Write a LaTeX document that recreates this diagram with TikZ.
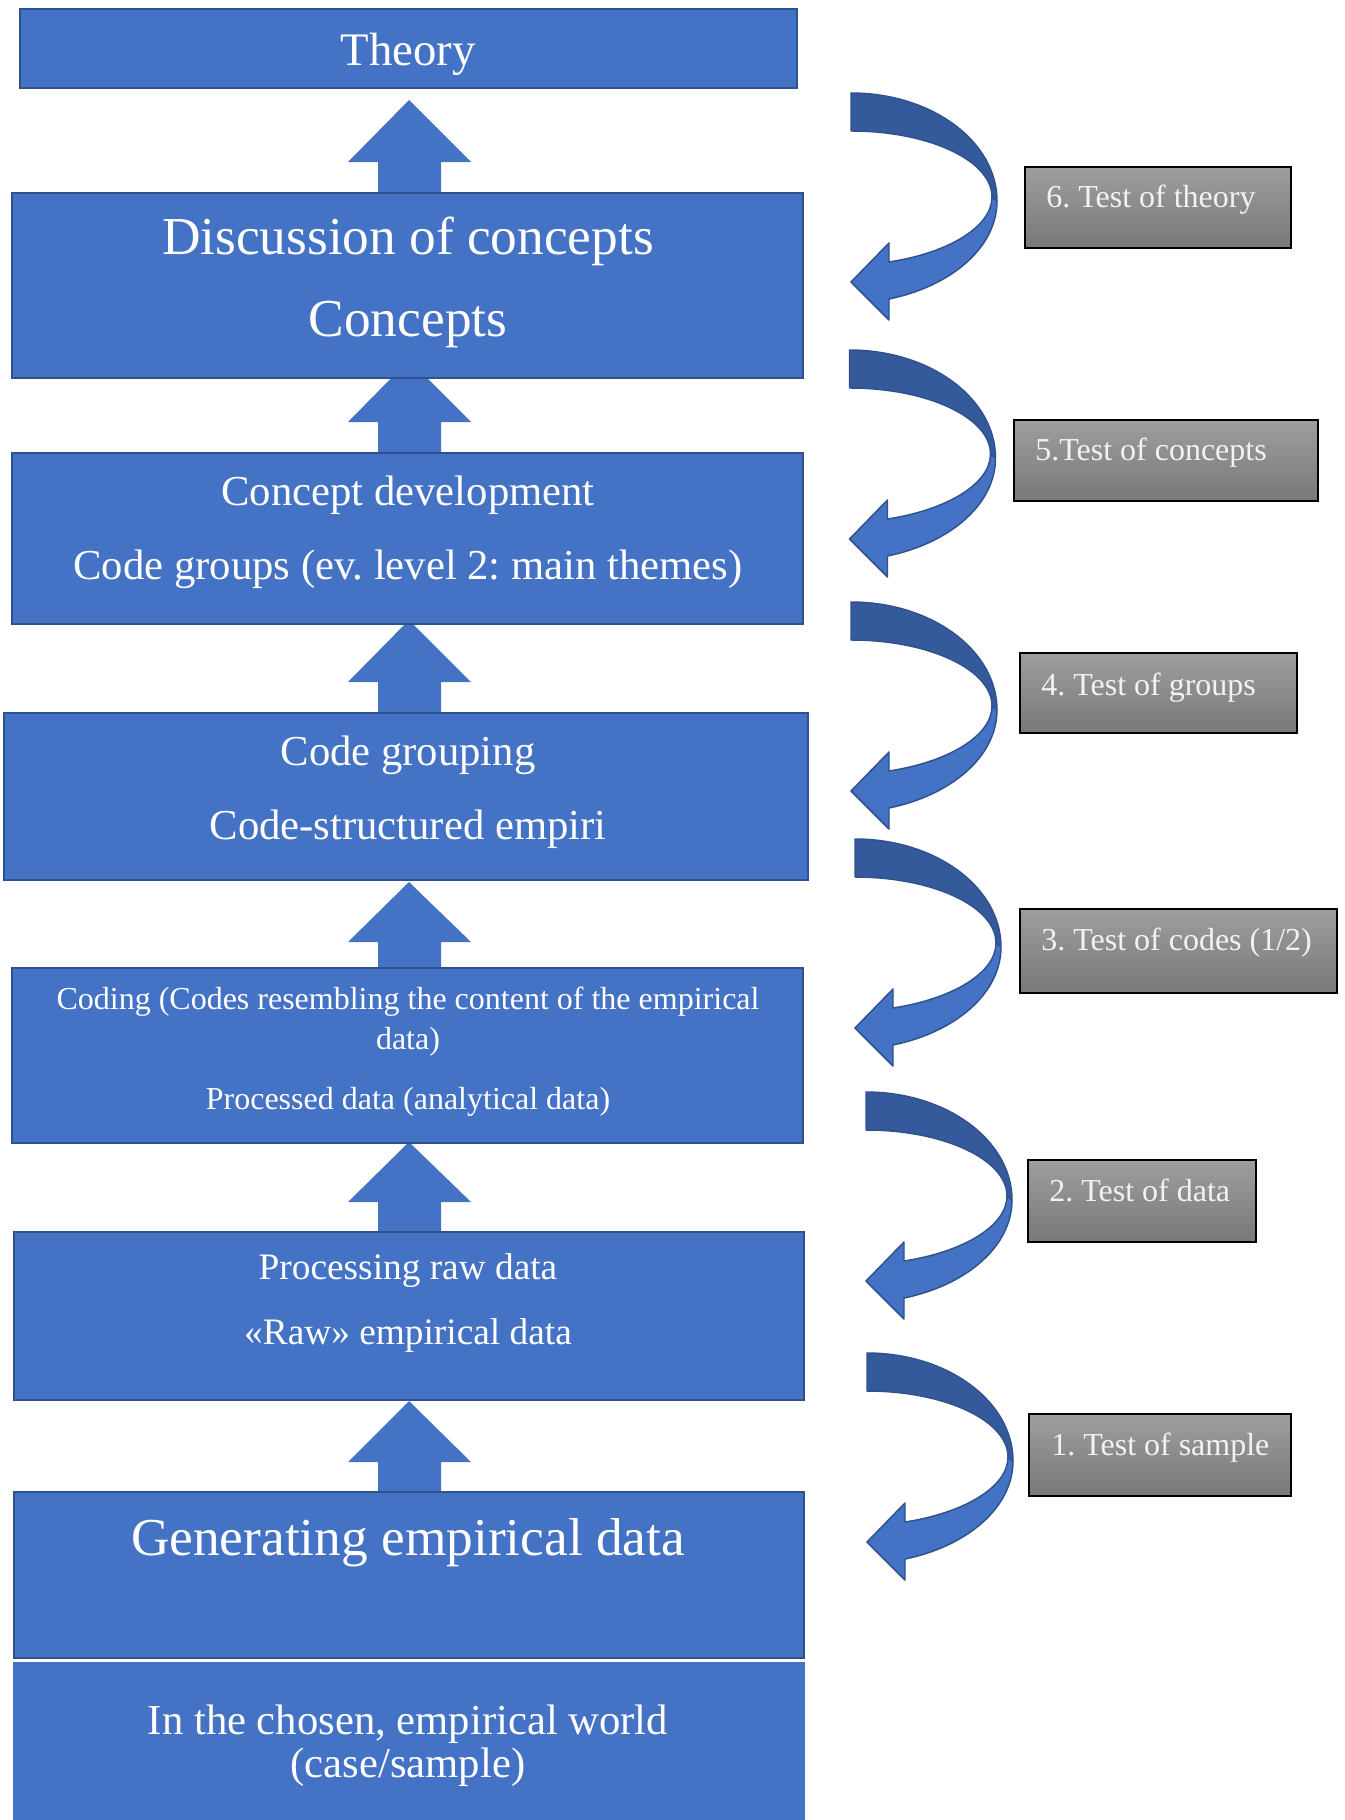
\documentclass[tikz,border=0pt]{standalone}
\usepackage{fontspec}
\setmainfont{Liberation Serif}
\definecolor{boxblue}{HTML}{4472C4}
\definecolor{boxedge}{HTML}{2F528F}
\definecolor{darkband}{HTML}{345A9B}
\definecolor{graytop}{HTML}{9E9E9E}
\definecolor{graybot}{HTML}{787878}
\definecolor{graytext}{HTML}{F2F2F2}
\frenchspacing
\begin{document}
\begin{tikzpicture}[x=0.75pt,y=-0.75pt,
  bluebox/.style={fill=boxblue,draw=boxedge,line width=2.2pt},
  plainbox/.style={fill=boxblue},
  uparrow/.style={fill=boxblue},
  graybox/.style={top color=graytop,bottom color=graybot,draw=black,line width=1pt},
  btxt/.style={text=white,inner sep=0pt,anchor=base},
  gtxt/.style={text=graytext,inner sep=0pt,anchor=base west,font=\fontsize{24}{28}\selectfont},
  curvedarr/.pic={
    \path[fill=darkband,draw=boxedge,line width=1.1pt,line join=round]
      (0,0) .. controls (80.6,0) and (146,48.4) .. (146,108) -- (141,104)
      .. controls (141,67.5) and (77.9,38) .. (0,38) -- cycle;
    \path[fill=boxblue,draw=boxedge,line width=1.1pt,line join=round]
      (141,104) .. controls (141,134) and (97,160) .. (38,169) -- (38,150) -- (0,189)
      -- (38,227) -- (38,206) .. controls (101,193) and (146,154) .. (146,108) -- cycle;
  }]
\useasboundingbox (0,0) rectangle (1345,1820);
\fill[white] (0,0) rectangle (1345,1820);

% up arrows
\foreach \t/\b/\e in {100/162/195, 360/422/455, 620/682/715, 882/942/970, 1142/1202/1234, 1401/1462/1494}{
  \path[uparrow] (409,\t) -- (471,\b) -- (441,\b) -- (441,\e) -- (378,\e) -- (378,\b) -- (348,\b) -- cycle;
}

% blue boxes
\path[bluebox] (20,9) rectangle (797,88);
\path[bluebox] (12,193) rectangle (803,378);
\path[bluebox] (12,453) rectangle (803,624);
\path[bluebox] (4,713) rectangle (808,880);
\path[bluebox] (12,968) rectangle (803,1143);
\path[bluebox] (14,1232) rectangle (804,1400);
\path[bluebox] (14,1492) rectangle (804,1658);
\path[plainbox] (13,1662) rectangle (805,1820);

% box texts
\node[btxt,font=\fontsize{35}{40}\selectfont] (theory) at (408,65) {Theory};
\node[btxt,font=\fontsize{40}{46}\selectfont] (disc) at (408,254) {Discussion of concepts};
\node[btxt,font=\fontsize{40}{46}\selectfont] (conc) at (408,336) {Concepts};
\node[btxt,font=\fontsize{32}{38}\selectfont] (cdev) at (408,505) {Concept development};
\node[btxt,font=\fontsize{32}{38}\selectfont] (cgrp) at (408,579) {Code groups (ev. level 2: main themes)};
\node[btxt,font=\fontsize{32}{38}\selectfont] (cgrouping) at (408,765) {Code grouping};
\node[btxt,font=\fontsize{32}{38}\selectfont] (cstruct) at (408,839) {Code-structured empiri};
\node[btxt,font=\fontsize{24}{28}\selectfont] (coding1) at (408,1009) {Coding (Codes resembling the content of the empirical};
\node[btxt,font=\fontsize{24}{28}\selectfont] (coding2) at (408,1049) {data)};
\node[btxt,font=\fontsize{24}{28}\selectfont] (proc) at (408,1109) {Processed data (analytical data)};
\node[btxt,font=\fontsize{28}{32}\selectfont] (praw) at (408,1279) {Processing raw data};
\node[btxt,font=\fontsize{28}{32}\selectfont] (raw) at (408,1344) {«Raw» empirical data};
\node[btxt,font=\fontsize{40}{46}\selectfont] (gen) at (408,1555) {Generating empirical data};
\node[btxt,font=\fontsize{32}{38}\selectfont] (world1) at (408,1734) {In the chosen, empirical world};
\node[btxt,font=\fontsize{32}{38}\selectfont] (world2) at (408,1777) {(case/sample)};

% curved arrows
\pic at (851,93) {curvedarr};
\pic at (849.5,350) {curvedarr};
\pic at (851,602) {curvedarr};
\pic at (855,839) {curvedarr};
\pic at (866,1092) {curvedarr};
\pic at (867,1353) {curvedarr};

% gray boxes
\path[graybox] (1025,167) rectangle (1291,248);
\node[gtxt] (g6) at (1046,207) {6. Test of theory};
\path[graybox] (1014,420) rectangle (1318,501);
\node[gtxt] (g5) at (1035,460) {5.Test of concepts};
\path[graybox] (1020,653) rectangle (1297,733);
\node[gtxt] (g4) at (1041,695) {4. Test of groups};
\path[graybox] (1020,909) rectangle (1337,993);
\node[gtxt] (g3) at (1041,950) {3. Test of codes (1/2)};
\path[graybox] (1028,1160) rectangle (1256,1242);
\node[gtxt] (g2) at (1049,1201) {2. Test of data};
\path[graybox] (1029,1414) rectangle (1291,1496);
\node[gtxt] (g1) at (1051,1455) {1. Test of sample};
\end{tikzpicture}
\end{document}
